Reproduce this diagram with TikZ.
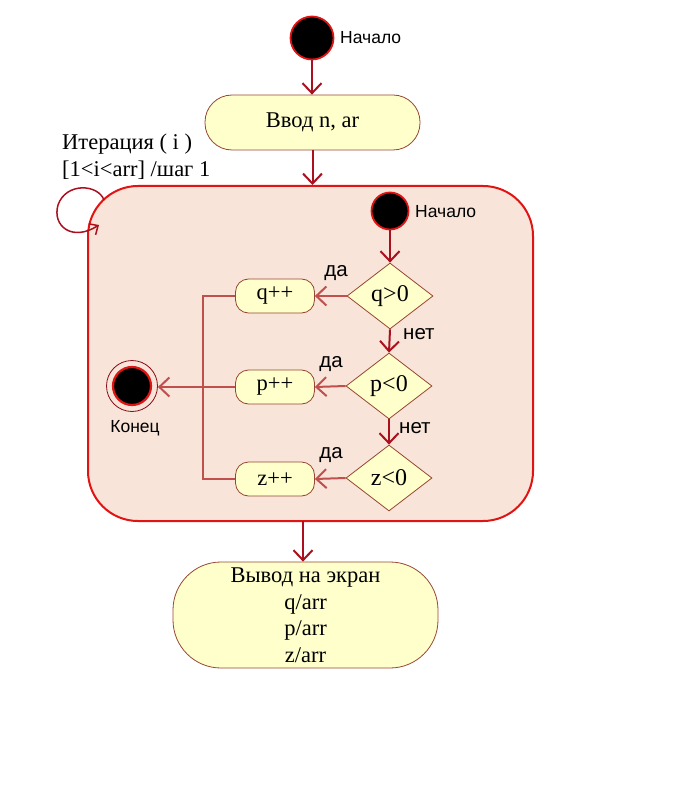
\documentclass[tikz,border=0pt]{standalone}
\usepackage{fontspec}
\setmainfont{Liberation Serif}
\newfontfamily\lsans{Liberation Sans}
\usetikzlibrary{arrows.meta,shapes.geometric}
\definecolor{arrred}{RGB}{170,16,30}
\definecolor{frred}{RGB}{225,20,20}
\definecolor{lpeach}{RGB}{248,228,216}
\definecolor{lyel}{RGB}{255,255,204}
\definecolor{brn}{RGB}{150,70,50}
\definecolor{rose}{RGB}{192,80,77}
\begin{document}
\begin{tikzpicture}[x=1pt,y=-1pt,
  startc/.style={circle,fill=black,draw=frred,line width=1.8pt,inner sep=0pt},
  lbl/.style={font=\lsans\fontsize{17.5}{20}\selectfont,inner sep=0pt},
  blbl/.style={font=\lsans\fontsize{20.5}{23}\selectfont,inner sep=0pt},
  stx/.style={font=\fontsize{22.5}{26.5}\selectfont},
  term/.style={draw=brn,line width=0.8pt,fill=lyel,stx,align=center,inner sep=0pt},
  act/.style={draw=brn,line width=0.8pt,fill=lyel,stx,minimum width=79pt,minimum height=34pt,rounded corners=13pt,inner sep=0pt},
  dec/.style={diamond,draw=brn,line width=0.8pt,fill=lyel,font=\fontsize{24}{26}\selectfont,minimum width=86pt,minimum height=66pt,inner sep=0pt},
  flow/.style={draw=arrred,line width=2pt,-{Straight Barb[length=10pt,width=19pt,line width=2pt]}},
  lnk/.style={draw=rose,line width=2pt},
  lnka/.style={lnk,-{Straight Barb[length=10pt,width=19pt,line width=2pt]}}]
\useasboundingbox (0,0) rectangle (679,799);

% outer flow
\node[startc,minimum size=43pt] (s1) at (312,38) {};
\node[lbl,anchor=west] (s1l) at (340,38) {Начало};
\node[term,minimum width=215pt,minimum height=55pt,rounded corners=27pt] (inp) at (312.5,122.5) {Ввод n, ar};
\node[draw=frred,line width=2pt,fill=lpeach,minimum width=445pt,minimum height=335pt,rounded corners=50pt] (frame) at (310.5,353.5) {};
\node[stx,anchor=north west,align=left,inner sep=0pt] (iter) at (62,134) {Итерация ( i )\\{}[1<i<arr] /шаг 1};
\draw[flow] (s1.south) -- (inp.north -| s1.south);
\draw[flow] (inp.south) -- (inp.south |- frame.north);

% loop arrow
\coordinate (lp0) at (104,200);
\coordinate (lp1) at (99,225);
\draw[draw=arrred,line width=1.5pt,-{Straight Barb[length=7pt,width=13pt,line width=1.5pt]}]
  (lp0) .. controls (98,184) and (66,182) .. (58,205)
  .. controls (52,226) and (72,242) .. (lp1);

% inner flow
\node[startc,minimum size=37pt] (s2) at (390,211) {};
\node[lbl,anchor=west] (s2l) at (415,212) {Начало};
\node[dec] (dq) at (390,296) {q>0};
\node[dec] (dp) at (389,386) {p<0};
\node[dec] (dz) at (389,478) {z<0};
\node[act] (bq) at (275,296) {q++};
\node[act] (bp) at (275,387) {p++};
\node[act] (bz) at (275,479) {z++};

\draw[flow] (s2.south) -- (dq.north);
\draw[flow] (dq.south) -- (dp.north);
\draw[flow] (dp.south) -- (dz.north);
\node[blbl,anchor=west] (n1) at (403,334) {нет};
\node[blbl,anchor=west] (n2) at (399,428) {нет};

\draw[lnka] (dq.west) -- (bq.east);
\draw[lnka] (dp.west) -- (bp.east);
\draw[lnka] (dz.west) -- (bz.east);
\node[blbl] (y1) at (336,273) {да};
\node[blbl] (y2) at (331,364) {да};
\node[blbl] (y3) at (331,455) {да};

% end node
\node[circle,draw=arrred!80!black,line width=0.8pt,minimum size=51pt,inner sep=0pt] (endc) at (132,386) {};
\node[startc,line width=2.2pt,minimum size=38pt] (endi) at (endc) {};
\node[lbl] (endl) at (135,428) {Конец};

\coordinate (jq) at (203,296);
\coordinate (jz) at (203,479);
\draw[lnk] (bq.west) -- (jq) -- (jz) -- (bz.west);
\draw[lnka] (bp.west) -- (bp.west -| endc.east);

% output
\node[term,minimum width=265pt,minimum height=106pt,rounded corners=48pt] (out) at (305.5,615) {Вывод на экран\\q/arr\\p/arr\\z/arr};
\coordinate (fo) at (303,521);
\draw[flow] (fo) -- (fo |- out.north);
\end{tikzpicture}
\end{document}
